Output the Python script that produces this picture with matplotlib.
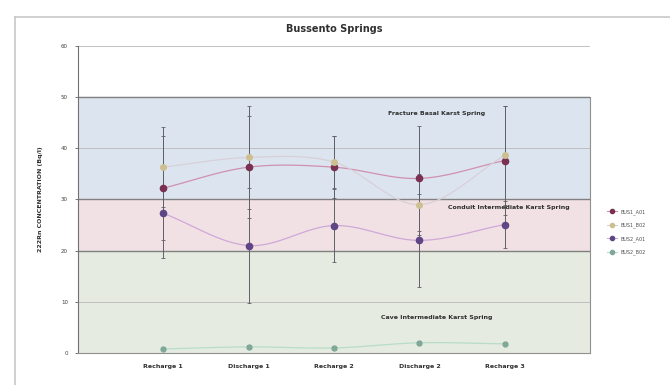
import matplotlib
matplotlib.use("Agg")
import matplotlib.pyplot as plt
import numpy as np

stages = ["Recharge 1", "Discharge 1", "Recharge 2", "Discharge 2", "Recharge 3"]
series_names = ["BUS1_A01", "BUS1_B02", "BUS2_A01", "BUS2_B02"]

bus1_a = [32.2, 36.3, 36.3, 34.1, 37.6]
bus1_b = [36.3, 38.2, 37.3, 29.0, 38.6]
bus2_a = [27.3, 21.0, 24.9, 22.0, 25.1]
bus2_b = [0.8, 1.2, 1.0, 2.0, 1.8]

err1_a = [10.2, 10.0, 6.0, 10.2, 10.6]
err1_b = [7.8, 10.0, 5.1, 6.0, 9.6]
err2_a = [8.7, 11.2, 7.1, 9.1, 4.5]
err2_b = [0.3, 0.4, 0.4, 0.4, 0.3]

bands = [(30, 50, "#dce5ef", "Fracture Basal Karst Spring", 4.2, 46.8),
         (20, 30, "#f1e1e4", "Conduit Intermediate Karst Spring", 5.05, 28.4),
         (0, 20, "#e5ebe1", "Cave Intermediate Karst Spring", 4.2, 6.9)]

styles = [dict(mc="#7a3050", lc="#d090b0", ms=4.5),
          dict(mc="#cdbf90", lc="#d8d0d8", ms=4),
          dict(mc="#5e4585", lc="#d0a8d8", ms=4.5),
          dict(mc="#80a898", lc="#b8dcc8", ms=3.5)]


def smooth(xs, ys, n=30):
    # Catmull-Rom curve through the points, like Excel's smoothed line
    xs = np.asarray(xs, float)
    ys = np.asarray(ys, float)
    px = np.concatenate([[2 * xs[0] - xs[1]], xs, [2 * xs[-1] - xs[-2]]])
    py = np.concatenate([[2 * ys[0] - ys[1]], ys, [2 * ys[-1] - ys[-2]]])
    ox, oy = [], []
    t = np.linspace(0, 1, n)
    for i in range(1, len(px) - 2):
        for arr, out in ((px, ox), (py, oy)):
            p0, p1, p2, p3 = arr[i - 1], arr[i], arr[i + 1], arr[i + 2]
            out.extend(0.5 * (2 * p1 + (-p0 + p2) * t
                              + (2 * p0 - 5 * p1 + 4 * p2 - p3) * t ** 2
                              + (-p0 + 3 * p1 - 3 * p2 + p3) * t ** 3))
    return ox, oy


fig = plt.figure(figsize=(6.7, 3.85), dpi=100)
# outer chart-area frame (only top and left edges are visible)
fig.add_artist(plt.Line2D([0.022, 1.0], [0.956, 0.956], transform=fig.transFigure,
                          color="#c8c8c8", linewidth=1.2))
fig.add_artist(plt.Line2D([0.022, 0.022], [0.0, 0.956], transform=fig.transFigure,
                          color="#c8c8c8", linewidth=1.2))
ax = fig.add_axes([0.116, 0.083, 0.765, 0.798])

x = np.arange(1, len(stages) + 1)

for lo, hi, col, label, tx, ty in bands:
    ax.axhspan(lo, hi, color=col, zorder=0)
    ax.text(tx, ty, label, fontsize=4.5, fontweight="bold", ha="center", va="center",
            color="#303030", zorder=5)

for yv in [10, 40, 60]:
    ax.axhline(yv, color="#b8b8b8", linewidth=0.6, zorder=1)
for yv in [20, 30, 50]:
    ax.axhline(yv, color="#808080", linewidth=1.0, zorder=1)

all_vals = [bus1_a, bus1_b, bus2_a, bus2_b]
all_errs = [err1_a, err1_b, err2_a, err2_b]
for name, vals, errs, st in zip(series_names, all_vals, all_errs, styles):
    sx, sy = smooth(x, vals)
    ax.plot(sx, sy, color=st["lc"], linewidth=0.9, zorder=2)
    ax.errorbar(x, vals, yerr=errs, fmt="none", ecolor="#606068", elinewidth=0.7,
                capsize=1.2, capthick=0.6, zorder=3)
    ax.plot(x, vals, "o", color=st["mc"], markersize=st["ms"], zorder=4, linestyle="None")

# legend handles with short line
handles = []
for name, st in zip(series_names, styles):
    h, = ax.plot([], [], marker="o", color=st["lc"], markerfacecolor=st["mc"],
                 markeredgecolor=st["mc"], markersize=3, linewidth=0.8)
    handles.append(h)
fig.legend(handles, series_names, loc="center left", bbox_to_anchor=(0.9, 0.397),
           frameon=False, fontsize=3.5, handlelength=2.0, labelspacing=1.6,
           labelcolor="#505050")

ax.set_xlim(0, 6)
ax.set_ylim(0, 60)
ax.set_xticks(x)
ax.set_xticklabels(stages, fontsize=4.5, fontweight="bold", color="#303030")
ax.set_yticks(range(0, 61, 10))
ax.tick_params(axis="y", labelsize=4, length=2, width=0.5, colors="#404040", pad=5)
ax.tick_params(axis="x", length=0, pad=8)
ax.spines["top"].set_visible(False)
ax.spines["left"].set_color("#707070")
ax.spines["bottom"].set_color("#909090")
ax.spines["right"].set_color("#909090")
ax.spines["right"].set_bounds(0, 50)

ax.set_ylabel("222Rn CONCENTRATION (Bq/l)", fontsize=4.5, fontweight="bold",
              color="#303030", labelpad=13)
ax.set_title("Bussento Springs", fontsize=7, fontweight="bold", color="#303030", pad=10)

fig.savefig("out.png", dpi=100)
